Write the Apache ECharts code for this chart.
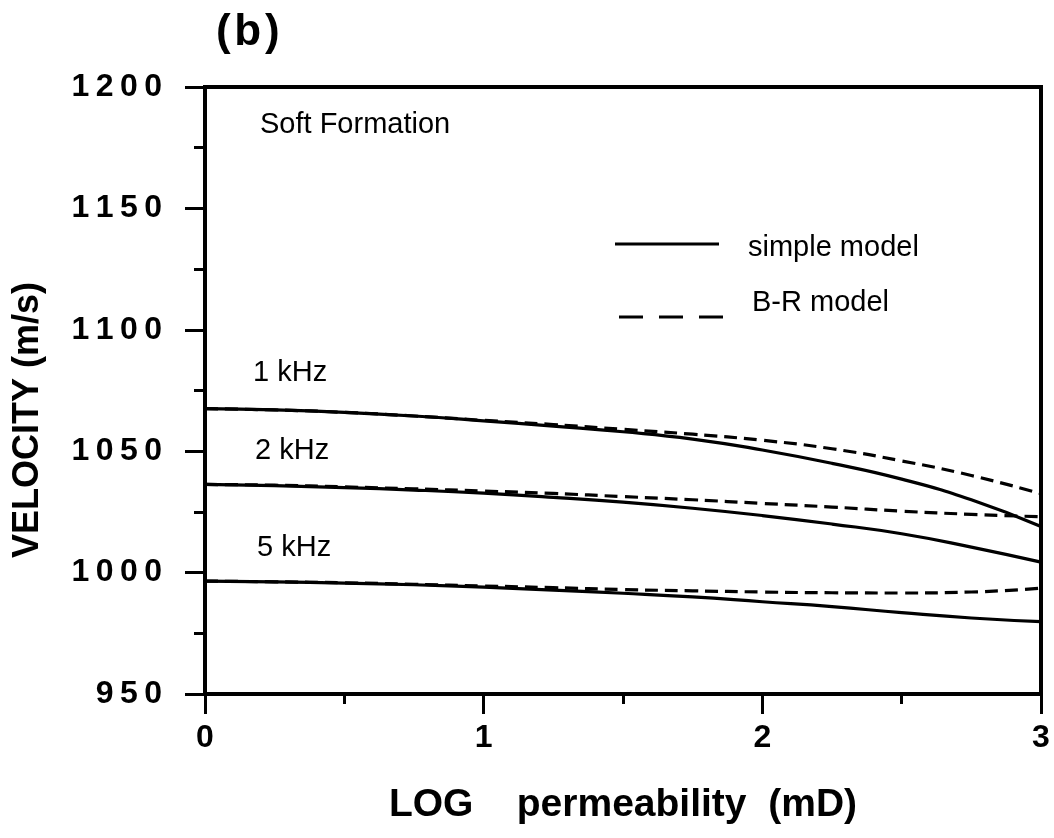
<!DOCTYPE html>
<html>
<head>
<meta charset="utf-8">
<script src="https://cdn.jsdelivr.net/npm/echarts@6/dist/echarts.min.js"></script>
<style>
  html, body { margin: 0; padding: 0; background: #fff; }
  #chart { width: 1054px; height: 838px; }
</style>
</head>
<body>
<div id="chart"></div>
<script>
// ---- Data ----
const logPerm = [0, 0.25, 0.5, 0.75, 1.0, 1.25, 1.5, 1.75, 2.0, 2.25, 2.5, 2.75, 3.0];

const simple1k = [1067.5, 1067.0, 1066.0, 1064.5, 1062.5, 1060.3, 1058.0, 1055.0, 1050.5, 1045.0, 1038.5, 1030.0, 1019.0];
const br1k     = [1067.5, 1067.0, 1066.0, 1064.5, 1062.7, 1061.0, 1059.0, 1057.0, 1054.5, 1051.0, 1046.0, 1040.0, 1032.5];

const simple2k = [1036.3, 1035.8, 1035.0, 1034.0, 1032.7, 1031.0, 1029.0, 1026.5, 1023.5, 1020.0, 1016.0, 1010.5, 1004.3];
const br2k     = [1036.3, 1036.0, 1035.3, 1034.5, 1033.6, 1032.6, 1031.3, 1030.0, 1028.5, 1027.0, 1025.3, 1024.0, 1023.0];

const simple5k = [996.5, 996.2, 995.7, 995.0, 994.0, 992.8, 991.5, 990.0, 988.0, 986.0, 983.5, 981.3, 979.8];
const br5k     = [996.5, 996.2, 995.8, 995.2, 994.5, 993.8, 993.0, 992.5, 992.0, 991.7, 991.6, 992.0, 993.6];

const xTicks = [0, 1, 2, 3];
const yTicks = [950, 1000, 1050, 1100, 1150, 1200];
const freqLabels = ['1 kHz', '2 kHz', '5 kHz'];
const legendNames = ['simple model', 'B-R model'];

// ---- Chart ----
const pairs = (ys) => logPerm.map((x, i) => [x, ys[i]]);
const FONT = '"Liberation Sans", Arial, Helvetica, sans-serif';

function lineSeries(name, ys, dashed) {
  return {
    type: 'line',
    name: name,
    data: pairs(ys),
    smooth: true,
    showSymbol: false,
    symbol: 'none',
    z: dashed ? 4 : 3,
    lineStyle: {
      color: '#000',
      width: 3.2,
      type: dashed ? [13, 7] : 'solid'
    },
    emphasis: { disabled: true }
  };
}

const chart = echarts.init(document.getElementById('chart'), null, { renderer: 'canvas' });

const option = {
  backgroundColor: '#fff',
  animation: false,
  grid: {
    left: 205, top: 87, width: 836, height: 607,
    show: true, borderColor: '#000', borderWidth: 4, backgroundColor: 'transparent'
  },
  xAxis: {
    type: 'value',
    min: xTicks[0], max: xTicks[xTicks.length - 1], interval: 1,
    axisLine: { show: true, onZero: false, lineStyle: { color: '#000', width: 4 } },
    axisTick: { show: true, inside: false, length: 20, lineStyle: { color: '#000', width: 3 } },
    minorTick: { show: true, splitNumber: 2, length: 10, lineStyle: { color: '#000', width: 3 } },
    splitLine: { show: false },
    axisLabel: {
      margin: 28, color: '#000', fontFamily: FONT, fontWeight: 'bold', fontSize: 32,
      formatter: (v) => String(v)
    },
    name: 'LOG    permeability  (mD)',
    nameLocation: 'middle',
    nameGap: 92,
    nameTextStyle: { color: '#000', fontFamily: FONT, fontWeight: 'bold', fontSize: 39 }
  },
  yAxis: {
    type: 'value',
    min: yTicks[0], max: yTicks[yTicks.length - 1], interval: 50,
    axisLine: { show: true, onZero: false, lineStyle: { color: '#000', width: 4 } },
    axisTick: { show: true, inside: false, length: 20, lineStyle: { color: '#000', width: 3 } },
    minorTick: { show: true, splitNumber: 2, length: 11, lineStyle: { color: '#000', width: 3 } },
    splitLine: { show: false },
    axisLabel: {
      margin: 43, color: '#000', fontFamily: FONT, fontWeight: 'bold', fontSize: 32,
      formatter: (v) => String(v).split('').join('\u2009')
    }
  },
  series: [
    lineSeries(legendNames[0] + ' ' + freqLabels[0], simple1k, false),
    lineSeries(legendNames[1] + ' ' + freqLabels[0], br1k, true),
    lineSeries(legendNames[0] + ' ' + freqLabels[1], simple2k, false),
    lineSeries(legendNames[1] + ' ' + freqLabels[1], br2k, true),
    lineSeries(legendNames[0] + ' ' + freqLabels[2], simple5k, false),
    lineSeries(legendNames[1] + ' ' + freqLabels[2], br5k, true)
  ],
  graphic: [
    { type: 'text', x: 216, y: 33,
      style: { text: '(\u200Ab\u200A)', font: 'bold 44px ' + FONT, fill: '#000', textVerticalAlign: 'middle' } },
    { type: 'text', x: 28, y: 420, rotation: Math.PI / 2, originX: 0, originY: 0,
      style: { text: 'VELOCITY (m/s)', font: 'bold 36px ' + FONT, fill: '#000',
               textAlign: 'center', textVerticalAlign: 'middle' } },
    { type: 'text', x: 260, y: 125,
      style: { text: 'Soft Formation', font: '29px ' + FONT, fill: '#000', textVerticalAlign: 'middle' } },
    { type: 'text', x: 253, y: 373,
      style: { text: freqLabels[0], font: '29px ' + FONT, fill: '#000', textVerticalAlign: 'middle' } },
    { type: 'text', x: 255, y: 451,
      style: { text: freqLabels[1], font: '29px ' + FONT, fill: '#000', textVerticalAlign: 'middle' } },
    { type: 'text', x: 257, y: 548,
      style: { text: freqLabels[2], font: '29px ' + FONT, fill: '#000', textVerticalAlign: 'middle' } },
    // legend
    { type: 'line', shape: { x1: 615, y1: 244, x2: 719, y2: 244 },
      style: { stroke: '#000', lineWidth: 3 } },
    { type: 'text', x: 748, y: 248,
      style: { text: legendNames[0], font: '29px ' + FONT, fill: '#000', textVerticalAlign: 'middle' } },
    { type: 'line', shape: { x1: 619, y1: 317, x2: 723, y2: 317 },
      style: { stroke: '#000', lineWidth: 3, lineDash: [24, 16] } },
    { type: 'text', x: 752, y: 303,
      style: { text: legendNames[1], font: '29px ' + FONT, fill: '#000', textVerticalAlign: 'middle' } }
  ]
};

chart.setOption(option);
</script>
</body>
</html>
